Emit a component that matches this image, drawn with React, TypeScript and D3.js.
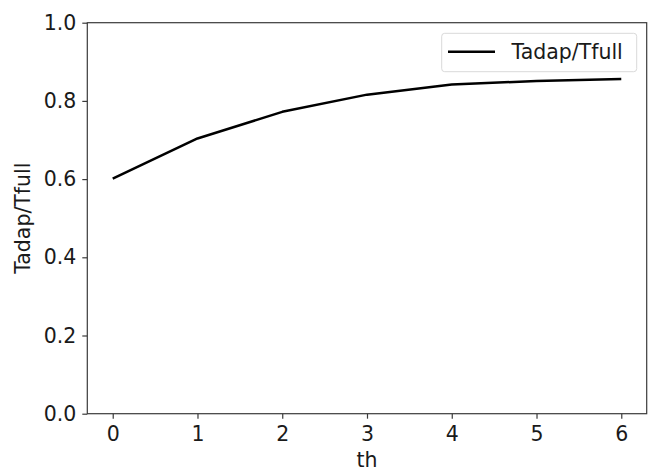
import { useEffect, useRef } from "react"
import * as d3 from "d3"

const thValues = [0, 1, 2, 3, 4, 5, 6]
const ratioValues = [0.601, 0.704, 0.772, 0.816, 0.842, 0.851, 0.856]
const yTicks = [0.0, 0.2, 0.4, 0.6, 0.8, 1.0]
const seriesName = "Tadap/Tfull"
const xLabel = "th"
const yLabel = "Tadap/Tfull"

export default function App() {
    const svgRef = useRef<SVGSVGElement>(null)

    useEffect(() => {
        if (!svgRef.current) return
        const svg = d3.select(svgRef.current)
        svg.selectAll("*").remove()

        const margin = { top: 22.7, right: 1.3, bottom: 58.3, left: 87.3 }
        const W = 648
        const H = 472
        const width = W - margin.left - margin.right
        const height = H - margin.top - margin.bottom
        const font = "'DejaVu Sans', sans-serif"
        const fontSize = 20.5
        const axisColor = "#3a3a3a"
        const textColor = "#1a1a1a"

        svg.append("rect").attr("width", W).attr("height", H).attr("fill", "#fff")

        const x = d3.scaleLinear().domain([-0.3, 6.3]).range([0, width])
        const y = d3.scaleLinear().domain([0, 1]).range([height, 0])

        const g = svg.append("g").attr("transform", `translate(${margin.left},${margin.top})`)

        // Line
        const line = d3.line<number>()
            .x((d, i) => x(thValues[i]))
            .y(d => y(d))
        g.append("path").datum(ratioValues)
            .attr("fill", "none")
            .attr("stroke", "#000")
            .attr("stroke-width", 2.5)
            .attr("stroke-linejoin", "round")
            .attr("d", line)

        // Axes
        const xAxis = g.append("g")
            .attr("transform", `translate(0,${height})`)
            .call(d3.axisBottom(x).tickValues(thValues).tickFormat(d3.format("d")).tickSize(5).tickPadding(8))
        const yAxis = g.append("g")
            .call(d3.axisLeft(y).tickValues(yTicks).tickFormat(d3.format(".1f")).tickSize(5).tickPadding(6))
        for (const a of [xAxis, yAxis]) {
            a.select(".domain").remove()
            a.selectAll("line").attr("stroke", axisColor).attr("stroke-width", 1.2)
            a.selectAll("text").attr("font-family", font).attr("font-size", fontSize).attr("fill", textColor)
        }

        // Frame
        g.append("rect")
            .attr("width", width).attr("height", height)
            .attr("fill", "none").attr("stroke", axisColor).attr("stroke-width", 1.2)

        // Labels
        svg.append("text")
            .attr("x", margin.left + width / 2).attr("y", 466.5)
            .attr("text-anchor", "middle")
            .attr("font-family", font).attr("font-size", fontSize).attr("fill", textColor)
            .text(xLabel)
        svg.append("text")
            .attr("transform", `translate(30,${margin.top + height / 2}) rotate(-90)`)
            .attr("text-anchor", "middle")
            .attr("font-family", font).attr("font-size", fontSize).attr("fill", textColor)
            .text(yLabel)

        // Legend
        const lg = svg.append("g")
        lg.append("rect")
            .attr("x", 441.7).attr("y", 33.3).attr("width", 195).attr("height", 38.4)
            .attr("rx", 3).attr("fill", "#fff").attr("fill-opacity", 0.8)
            .attr("stroke", "#d9d9d9").attr("stroke-width", 1)
        lg.append("line")
            .attr("x1", 448).attr("x2", 495).attr("y1", 51.7).attr("y2", 51.7)
            .attr("stroke", "#000").attr("stroke-width", 2.5)
        lg.append("text")
            .attr("x", 511.5).attr("y", 58.8)
            .attr("font-family", font).attr("font-size", fontSize).attr("fill", textColor)
            .text(seriesName)
    }, [])

    return (
        <svg ref={svgRef} width={648} height={472}
            style={{ position: "absolute", left: 0, top: 0, display: "block" }} />
    )
}
